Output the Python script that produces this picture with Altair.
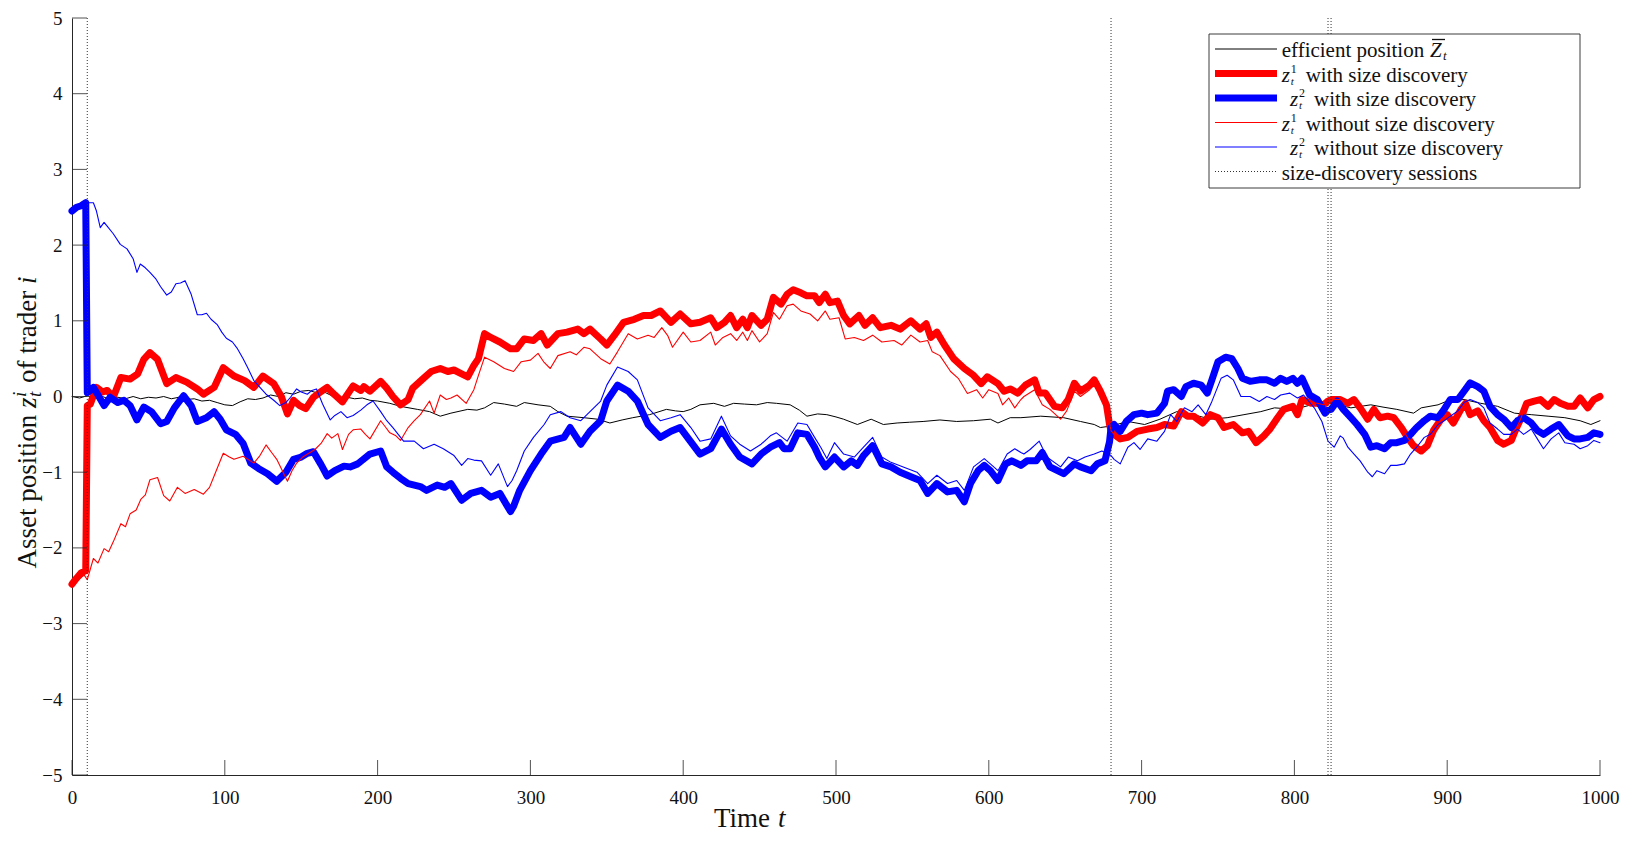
import altair as alt
import pandas as pd

# ---------------- data ----------------
EFFICIENT = [
    (0, 0.0), (5, -0.02), (10, 0.01), (15, -0.03), (20, 0.0), (25, -0.04), (30, -0.01), (35, -0.03),
    (40, 0.0), (45, -0.03), (50, -0.01), (55, -0.02), (60, 0.0), (65, -0.03), (70, -0.01), (75, -0.04),
    (80, -0.03), (85, -0.06), (90, -0.05), (95, -0.08), (100, -0.11), (105, -0.12), (110, -0.07),
    (115, -0.03), (120, -0.04), (125, -0.02), (130, 0.02), (135, 0.0), (140, 0.05), (145, 0.03),
    (150, 0.07), (155, 0.08), (160, 0.05), (165, 0.06), (170, 0.01), (175, -0.04), (180, -0.01),
    (185, -0.03), (190, -0.02), (195, -0.05), (200, -0.06), (208, -0.09), (215, -0.13), (226, -0.17),
    (234, -0.2), (241, -0.26), (248, -0.22), (259, -0.17), (265, -0.18), (270, -0.15), (276, -0.08),
    (283, -0.1), (291, -0.13), (296, -0.08), (305, -0.11), (313, -0.13), (318, -0.2), (324, -0.26),
    (335, -0.28), (344, -0.3), (352, -0.35), (360, -0.31), (367, -0.28), (378, -0.24), (389, -0.17),
    (395, -0.19), (400, -0.2), (405, -0.17), (411, -0.11), (420, -0.09), (427, -0.13), (433, -0.09),
    (440, -0.1), (448, -0.11), (455, -0.08), (461, -0.09), (470, -0.11), (476, -0.18), (481, -0.26),
    (488, -0.23), (494, -0.24), (500, -0.27), (505, -0.3), (514, -0.37), (523, -0.3), (531, -0.37),
    (540, -0.35), (548, -0.34), (557, -0.33), (568, -0.31), (579, -0.33), (590, -0.32), (601, -0.3),
    (606, -0.35), (614, -0.28), (621, -0.28), (634, -0.26), (649, -0.28), (660, -0.33), (669, -0.37),
    (673, -0.41), (680, -0.39), (691, -0.33), (702, -0.37), (712, -0.3), (723, -0.2), (734, -0.24),
    (745, -0.3), (756, -0.28), (767, -0.24), (778, -0.2), (787, -0.15), (800, -0.17), (811, -0.11),
    (824, -0.09), (837, -0.15), (850, -0.11), (858, -0.14), (867, -0.17), (878, -0.22), (883, -0.15),
    (894, -0.11), (900, -0.06), (911, -0.04), (922, -0.09), (933, -0.13), (944, -0.22), (955, -0.24),
    (966, -0.26), (977, -0.28), (987, -0.32), (994, -0.37), (1000, -0.32),
]

Z1_WITH_SD = [
    (0, -2.48), (3, -2.4), (6, -2.33), (9, -2.3), (10, -0.12), (12, -0.1), (16, 0.12), (20, 0.06),
    (23, 0.08), (27, -0.01), (32, 0.25), (38, 0.23), (43, 0.3), (47, 0.49), (51, 0.58), (56, 0.49),
    (62, 0.17), (68, 0.25), (75, 0.19), (82, 0.1), (86, 0.03), (93, 0.12), (99, 0.38), (106, 0.27),
    (113, 0.21), (119, 0.12), (125, 0.27), (132, 0.17), (137, 0.0), (141, -0.23), (145, -0.05),
    (149, -0.12), (153, -0.16), (158, -0.01), (162, 0.05), (167, 0.12), (172, 0.02), (177, -0.07),
    (184, 0.14), (189, 0.08), (191, 0.13), (195, 0.07), (202, 0.2), (206, 0.11), (210, 0.0),
    (215, -0.11), (220, -0.04), (223, 0.11), (230, 0.24), (235, 0.33), (241, 0.37), (246, 0.33),
    (250, 0.35), (255, 0.3), (259, 0.26), (263, 0.41), (266, 0.5), (270, 0.83), (274, 0.78),
    (280, 0.72), (287, 0.63), (291, 0.63), (296, 0.76), (302, 0.74), (307, 0.83), (311, 0.68),
    (318, 0.83), (324, 0.85), (331, 0.89), (335, 0.83), (339, 0.89), (346, 0.76), (350, 0.68),
    (355, 0.81), (361, 0.98), (368, 1.02), (374, 1.07), (379, 1.07), (385, 1.13), (392, 0.98),
    (398, 1.09), (405, 0.96), (411, 0.98), (418, 1.04), (422, 0.91), (427, 0.98), (431, 1.07),
    (435, 0.91), (439, 1.02), (442, 0.91), (445, 1.07), (451, 0.94), (455, 1.02), (459, 1.31),
    (464, 1.22), (468, 1.35), (472, 1.41), (477, 1.37), (481, 1.33), (486, 1.33), (489, 1.24),
    (493, 1.35), (496, 1.24), (501, 1.26), (505, 1.07), (509, 0.96), (515, 1.07), (519, 0.94),
    (524, 1.04), (529, 0.91), (536, 0.94), (542, 0.89), (549, 1.0), (555, 0.89), (559, 0.96),
    (562, 0.78), (566, 0.85), (571, 0.68), (577, 0.5), (584, 0.37), (590, 0.28), (595, 0.17),
    (599, 0.26), (606, 0.17), (610, 0.07), (614, 0.1), (619, 0.045), (624, 0.15), (630, 0.22),
    (633, 0.045), (637, 0.045), (643, -0.13), (648, -0.15), (652, -0.04), (656, 0.175), (660, 0.07),
    (666, 0.15), (669, 0.22), (673, 0.07), (677, -0.11), (679, -0.37), (680, -0.45), (682, -0.5),
    (686, -0.56), (691, -0.54), (697, -0.46), (704, -0.43), (710, -0.41), (715, -0.37), (721, -0.39),
    (726, -0.2), (730, -0.26), (734, -0.26), (740, -0.35), (745, -0.24), (750, -0.28), (754, -0.41),
    (760, -0.37), (766, -0.48), (770, -0.46), (775, -0.61), (780, -0.52), (784, -0.43), (789, -0.28),
    (793, -0.17), (799, -0.13), (802, -0.24), (805, -0.04), (811, -0.09), (815, -0.09), (819, -0.11),
    (822, -0.06), (824, -0.04), (830, -0.04), (835, -0.09), (839, -0.04), (843, -0.15), (848, -0.3),
    (852, -0.17), (856, -0.28), (861, -0.26), (865, -0.28), (870, -0.41), (874, -0.54), (878, -0.65),
    (883, -0.72), (887, -0.65), (891, -0.45), (896, -0.3), (900, -0.24), (904, -0.35), (909, -0.17),
    (912, -0.09), (915, -0.24), (920, -0.19), (924, -0.32), (928, -0.41), (933, -0.58), (937, -0.63),
    (942, -0.58), (945, -0.43), (948, -0.3), (952, -0.09), (957, -0.06), (961, -0.04), (966, -0.13),
    (970, -0.04), (974, -0.09), (979, -0.13), (983, -0.13), (987, -0.02), (992, -0.15), (996, -0.04),
    (1000, 0.0),
]

Z2_WITH_SD = [
    (0, 2.45), (3, 2.5), (6, 2.52), (9, 2.56), (10, 0.05), (12, 0.08), (14, 0.12), (17, 0.02),
    (21, -0.12), (25, -0.01), (30, -0.08), (34, -0.05), (38, -0.12), (42.5, -0.31), (47, -0.14),
    (52, -0.2), (58, -0.36), (62, -0.33), (67, -0.15), (73, 0.01), (78, -0.12), (82, -0.33),
    (88, -0.28), (93, -0.2), (97, -0.3), (101, -0.44), (107, -0.5), (112, -0.62), (117, -0.88),
    (122, -0.95), (128, -1.02), (134, -1.12), (140, -1.0), (145, -0.83), (150, -0.8), (154, -0.75),
    (158, -0.73), (163, -0.9), (167, -1.05), (172, -0.98), (178, -0.92), (182, -0.93), (187, -0.89),
    (195, -0.76), (202, -0.72), (206, -0.93), (210, -1.0), (215, -1.08), (220, -1.15), (228, -1.19),
    (232, -1.24), (239, -1.17), (244, -1.2), (248, -1.15), (255, -1.37), (261, -1.28), (268, -1.24),
    (274, -1.33), (280, -1.28), (287, -1.52), (289, -1.45), (293, -1.24), (300, -0.98), (307, -0.76),
    (313, -0.59), (322, -0.54), (326, -0.41), (333, -0.63), (339, -0.46), (346, -0.32), (350, -0.06),
    (357, 0.15), (364, 0.07), (370, -0.06), (377, -0.37), (385, -0.54), (392, -0.46), (398, -0.41),
    (405, -0.6), (411, -0.76), (418, -0.69), (425, -0.43), (431, -0.63), (437, -0.8), (445, -0.89),
    (451, -0.76), (457, -0.67), (463, -0.61), (466, -0.69), (470, -0.69), (475, -0.48), (481, -0.5),
    (486, -0.67), (489, -0.8), (493, -0.93), (499, -0.8), (505, -0.93), (510, -0.85), (514, -0.91),
    (518, -0.78), (524, -0.65), (530, -0.89), (536, -0.93), (542, -1.0), (549, -1.06), (555, -1.11),
    (560, -1.28), (566, -1.15), (573, -1.26), (579, -1.24), (584, -1.39), (588, -1.15), (593, -0.98),
    (597, -0.91), (601, -0.98), (606, -1.11), (611, -0.89), (615, -0.85), (621, -0.91), (625, -0.85),
    (631, -0.85), (635, -0.74), (640, -0.93), (649, -1.02), (656, -0.89), (660, -0.93), (667, -0.98),
    (671, -0.89), (676, -0.85), (679, -0.6), (680, -0.41), (682, -0.37), (686, -0.46), (690, -0.33),
    (695, -0.24), (700, -0.22), (704, -0.24), (710, -0.22), (715, -0.09), (717, 0.07), (721, 0.09),
    (726, 0.0), (729, 0.13), (734, 0.175), (739, 0.15), (743, 0.045), (746, 0.22), (750, 0.46),
    (755, 0.52), (759, 0.5), (763, 0.37), (766, 0.24), (771, 0.2), (777, 0.22), (782, 0.22),
    (787, 0.175), (791, 0.24), (795, 0.2), (799, 0.24), (802, 0.175), (805, 0.24), (810, 0.02),
    (815, -0.04), (820, -0.22), (822, -0.18), (824, -0.17), (828, -0.06), (832, -0.17), (837, -0.28),
    (841, -0.37), (846, -0.5), (850, -0.67), (854, -0.65), (859, -0.69), (863, -0.61), (867, -0.61),
    (872, -0.58), (876, -0.5), (880, -0.41), (885, -0.32), (889, -0.26), (894, -0.28), (898, -0.17),
    (902, -0.04), (907, -0.04), (911, 0.07), (915, 0.18), (920, 0.13), (924, 0.07), (928, -0.13),
    (933, -0.24), (937, -0.3), (942, -0.41), (946, -0.32), (950, -0.28), (955, -0.35), (959, -0.45),
    (963, -0.5), (968, -0.43), (973, -0.37), (979, -0.52), (983, -0.56), (987, -0.56), (992, -0.54),
    (996, -0.48), (1000, -0.5),
]

# z1 without size discovery up to the session at t=680 (afterwards it runs inside the thick red line)
Z1_NO_SD_BEFORE_680 = [
    (0, -2.48), (4, -2.42), (8, -2.36), (10, -2.42), (14, -2.14), (17, -2.2), (21, -2.01), (24, -2.05),
    (27, -1.92), (32, -1.68), (35, -1.72), (38, -1.55), (42, -1.5), (45, -1.36), (48, -1.3), (51, -1.1),
    (56, -1.07), (60, -1.31), (64, -1.38), (69, -1.2), (74, -1.28), (80, -1.23), (86, -1.29), (90, -1.2),
    (93, -1.05), (99, -0.75), (103, -0.8), (106, -0.83), (112, -0.79), (119, -0.88), (123, -0.78),
    (127, -0.64), (131, -0.75), (134, -0.83), (141, -1.12), (144, -0.98), (147, -0.88), (151, -0.8),
    (155, -0.75), (159, -0.7), (163, -0.62), (167, -0.49), (170, -0.55), (174, -0.49), (177, -0.7),
    (181, -0.5), (184, -0.44), (189, -0.43), (192, -0.5), (195, -0.56), (202, -0.32), (205, -0.4),
    (208, -0.48), (212, -0.52), (215, -0.58), (220, -0.41), (224, -0.32), (228, -0.24), (234, -0.06),
    (237, -0.22), (241, 0.02), (245, -0.04), (248, -0.02), (252, 0.02), (258, -0.09), (263, 0.09),
    (266, 0.28), (270, 0.52), (276, 0.46), (283, 0.37), (289, 0.33), (294, 0.46), (300, 0.48),
    (305, 0.57), (309, 0.45), (313, 0.37), (318, 0.54), (326, 0.59), (330, 0.55), (335, 0.65),
    (339, 0.63), (346, 0.5), (352, 0.43), (357, 0.59), (364, 0.83), (370, 0.76), (377, 0.81),
    (381, 0.78), (386, 0.91), (390, 0.8), (393, 0.65), (400, 0.85), (405, 0.72), (411, 0.74),
    (418, 0.85), (421, 0.68), (426, 0.78), (431, 0.83), (435, 0.74), (439, 0.85), (442, 0.74),
    (445, 0.87), (450, 0.72), (455, 0.83), (459, 1.11), (463, 1.02), (468, 1.2), (472, 1.22),
    (477, 1.13), (483, 1.09), (488, 1.0), (493, 1.13), (496, 1.02), (502, 1.04), (506, 0.76),
    (512, 0.78), (518, 0.74), (524, 0.81), (530, 0.72), (538, 0.74), (543, 0.68), (549, 0.81),
    (555, 0.72), (560, 0.74), (563, 0.59), (568, 0.54), (575, 0.33), (580, 0.24), (586, 0.04),
    (592, 0.09), (596, -0.02), (600, 0.09), (606, 0.04), (609, -0.11), (613, -0.02), (617, -0.15),
    (621, -0.04), (623, 0.0), (630, 0.09), (635, -0.11), (640, -0.17), (647, -0.3), (651, -0.19),
    (656, 0.07), (660, 0.0), (666, 0.09), (670, 0.175), (674, 0.0), (678, -0.24),
]
Z1_NO_SD = Z1_NO_SD_BEFORE_680 + [p for p in Z1_WITH_SD if p[0] >= 680]

Z2_NO_SD = [
    (0, 2.45), (3, 2.5), (6, 2.52), (9, 2.56), (10, 2.56), (14, 2.56), (16, 2.45), (18.5, 2.23),
    (21, 2.3), (23, 2.25), (27, 2.15), (31.6, 2.01), (36, 1.95), (40, 1.82), (42.5, 1.64), (44.7, 1.75),
    (48, 1.7), (51, 1.64), (55, 1.55), (58, 1.45), (62, 1.34), (65, 1.38), (68, 1.49), (71, 1.5),
    (74, 1.53), (78, 1.35), (82, 1.08), (85, 1.08), (88, 1.1), (91, 1.02), (95, 0.95), (98, 0.85),
    (101, 0.77), (105, 0.72), (108, 0.64), (112, 0.5), (115, 0.38), (119, 0.21), (123, 0.12),
    (127, 0.03), (132, -0.05), (136, -0.12), (140, -0.08), (143, -0.01), (147, 0.1), (150, 0.06),
    (154, 0.03), (157, 0.08), (160, 0.1), (164, -0.1), (169, -0.31), (172, -0.25), (176, -0.2),
    (180, -0.28), (184, -0.25), (189, -0.18), (193, -0.11), (197, -0.06), (202, -0.2), (206, -0.32),
    (210, -0.41), (217, -0.59), (224, -0.59), (230, -0.69), (237, -0.63), (243, -0.69), (250, -0.78),
    (255, -0.91), (259, -0.82), (263, -0.84), (268, -0.85), (274, -1.04), (279, -0.89), (285, -1.19),
    (288, -1.11), (291, -0.98), (296, -0.72), (302, -0.54), (309, -0.37), (313, -0.24), (320, -0.2),
    (326, -0.28), (333, -0.32), (339, -0.2), (346, -0.06), (350, 0.15), (357, 0.39), (364, 0.33),
    (370, 0.22), (377, -0.15), (385, -0.32), (392, -0.28), (398, -0.24), (405, -0.41), (411, -0.59),
    (418, -0.56), (425, -0.26), (431, -0.52), (437, -0.63), (444, -0.72), (451, -0.63), (457, -0.52),
    (461, -0.48), (468, -0.59), (475, -0.35), (481, -0.37), (486, -0.54), (490, -0.67), (494, -0.82),
    (499, -0.61), (505, -0.76), (512, -0.8), (518, -0.67), (524, -0.54), (530, -0.8), (536, -0.87),
    (544, -0.93), (553, -1.0), (560, -1.15), (566, -1.04), (573, -1.15), (579, -1.11), (584, -1.24),
    (590, -0.93), (597, -0.82), (601, -0.89), (606, -0.98), (612, -0.76), (617, -0.69), (621, -0.74),
    (623, -0.76), (627, -0.7), (633, -0.59), (638, -0.8), (647, -0.93), (652, -0.8), (658, -0.85),
    (663, -0.8), (669, -0.76), (674, -0.72), (680, -0.78), (682, -0.83), (686, -0.89), (691, -0.67),
    (695, -0.61), (699, -0.7), (704, -0.56), (710, -0.59), (715, -0.46), (719, -0.24), (723, -0.33),
    (728, -0.15), (733, -0.2), (737, -0.11), (742, -0.24), (746, -0.065), (752, 0.24), (756, 0.28),
    (760, 0.22), (765, 0.0), (771, 0.0), (777, -0.065), (782, 0.0), (787, -0.04), (791, 0.02),
    (797, 0.045), (802, -0.02), (806, 0.02), (813, -0.15), (818, -0.33), (822, -0.59), (826, -0.67),
    (830, -0.52), (832, -0.55), (835, -0.67), (839, -0.76), (843, -0.85), (848, -1.0), (851, -1.06),
    (854, -0.98), (859, -1.02), (863, -0.91), (867, -0.91), (872, -0.89), (876, -0.76), (880, -0.67),
    (885, -0.54), (889, -0.5), (894, -0.37), (898, -0.32), (902, -0.26), (907, -0.19), (911, -0.08),
    (915, -0.04), (920, -0.08), (924, -0.15), (928, -0.35), (933, -0.43), (937, -0.5), (942, -0.5),
    (946, -0.43), (950, -0.5), (955, -0.43), (959, -0.56), (963, -0.69), (968, -0.56), (973, -0.48),
    (977, -0.61), (983, -0.63), (987, -0.69), (992, -0.65), (996, -0.58), (1000, -0.61),
]

SESSIONS = [10, 680, 822, 824]
X_TICKS = list(range(0, 1001, 100))
Y_TICKS = list(range(-5, 6))

# ---------------- layout / style ----------------
W, H = 1528, 757
FONT = "Liberation Serif"
INK = "#262626"
TICK_LEN = 15
THICK, THIN = 7, 1.1

xs = alt.Scale(domain=[0, 1000], nice=False, zero=False)
ys = alt.Scale(domain=[-5, 5], nice=False, zero=False)

X_AXIS = alt.Axis(values=X_TICKS, title="", grid=False, ticks=False, format="d", labelPadding=13,
                  labelFlush=False, labelOverlap=False)
Y_AXIS = alt.Axis(values=Y_TICKS, title="", grid=False, ticks=False, format="d", labelPadding=10,
                  labelFlush=False, labelOverlap=False)


def X():
    return alt.X("t:Q", scale=xs, axis=X_AXIS)


def Y():
    return alt.Y("v:Q", scale=ys, axis=Y_AXIS)


def to_df(pairs):
    return pd.DataFrame({"t": [p[0] for p in pairs], "v": [p[1] for p in pairs]})


def line_layer(pairs, color, width):
    return alt.Chart(to_df(pairs)).mark_line(
        color=color, strokeWidth=width, strokeJoin="round", strokeCap="round"
    ).encode(x=X(), y=Y())


ONE = pd.DataFrame({"k": [0]})


def txt(s, x, y, size=21, italic=False, angle=0):
    kw = dict(text=s, font=FONT, fontSize=size, color="#111111", align="left",
              baseline="alphabetic", angle=angle)
    if italic:
        kw["fontStyle"] = "italic"
    return alt.Chart(ONE).mark_text(**kw).encode(x=alt.value(x), y=alt.value(y))


def hrule(x1, x2, y, color, width, dash=None):
    kw = dict(color=color, strokeWidth=width)
    if dash:
        kw["strokeDash"] = dash
    return alt.Chart(ONE).mark_rule(**kw).encode(x=alt.value(x1), x2=alt.value(x2), y=alt.value(y))


layers = []
# data lines, in plotting order
layers.append(line_layer(EFFICIENT, "#000000", 1.0))
layers.append(line_layer(Z1_WITH_SD, "#ff0000", THICK))
layers.append(line_layer(Z2_WITH_SD, "#0000ff", THICK))
layers.append(line_layer(Z1_NO_SD, "#ff0000", THIN))
layers.append(line_layer(Z2_NO_SD, "#0000ff", THIN))

# size-discovery sessions
layers.append(alt.Chart(pd.DataFrame({"t": SESSIONS})).mark_rule(
    color="#333333", strokeWidth=1, strokeDash=[1, 2]
).encode(x=X(), y=alt.value(0), y2=alt.value(H)))

# inward ticks (MATLAB style)
layers.append(alt.Chart(pd.DataFrame({"t": X_TICKS})).mark_rule(color=INK, strokeWidth=0.8).encode(
    x=X(), y=alt.value(H - TICK_LEN), y2=alt.value(H)))
layers.append(alt.Chart(pd.DataFrame({"v": Y_TICKS})).mark_rule(color=INK, strokeWidth=0.8).encode(
    y=Y(), x=alt.value(0), x2=alt.value(TICK_LEN)))

# axis titles
layers.append(txt("Time", 642, 809, size=27))
layers.append(txt("t", 706, 809, size=27, italic=True))
YB = -36
layers.append(txt("Asset position", YB, 550.5, size=27, angle=270))
layers.append(txt("z", YB, 390, size=27, italic=True, angle=270))
layers.append(txt("i", YB - 10, 379, size=19, italic=True, angle=270))
layers.append(txt("t", YB + 5, 379, size=19, italic=True, angle=270))
layers.append(txt("of trader", YB, 365, size=27, angle=270))
layers.append(txt("i", YB, 266, size=27, italic=True, angle=270))

# legend box
layers.append(alt.Chart(ONE).mark_rect(fill="white", stroke=INK, strokeWidth=0.9).encode(
    x=alt.value(1137), x2=alt.value(1508), y=alt.value(16), y2=alt.value(170)))
ROWS = [31, 55.5, 80, 104.5, 129, 153.5]
LX1, LX2, TX = 1143, 1205, 1209.7
BASE = 8
layers.append(hrule(LX1, LX2, ROWS[0], "#000000", 1.0))
layers.append(hrule(LX1, LX2, ROWS[1], "#ff0000", THICK))
layers.append(hrule(LX1, LX2, ROWS[2], "#0000ff", THICK))
layers.append(hrule(LX1, LX2, ROWS[3], "#ff0000", THIN))
layers.append(hrule(LX1, LX2, ROWS[4], "#0000ff", THIN))
layers.append(hrule(LX1, LX2, ROWS[5], "#333333", 1.0, dash=[1, 2]))

# row 1: efficient position Z-bar_t
layers.append(txt("efficient position", TX, ROWS[0] + BASE))
layers.append(txt("Z", 1358, ROWS[0] + BASE, italic=True))
layers.append(hrule(1360, 1373, ROWS[0] - 9.5, "#111111", 1.3))
layers.append(txt("t", 1371, ROWS[0] + 11, size=13, italic=True))

# rows 2-5: z_t^i with / without size discovery
for row, sup, shift, rest in [
    (1, "1", 0, "with size discovery"),
    (2, "2", 8.3, "with size discovery"),
    (3, "1", 0, "without size discovery"),
    (4, "2", 8.3, "without size discovery"),
]:
    y = ROWS[row]
    zx = TX + shift
    layers.append(txt("z", zx, y + BASE, italic=True))
    layers.append(txt(sup, zx + 9, y - 1, size=12))
    layers.append(txt("t", zx + 9, y + 11.4, size=11, italic=True))
    layers.append(txt(rest, zx + 24, y + BASE))

layers.append(txt("size-discovery sessions", TX, ROWS[5] + BASE))

chart = alt.layer(*layers).properties(
    width=W,
    height=H,
    padding={"left": 64, "top": 10, "right": 23, "bottom": 60},
    autosize=alt.AutoSizeParams(type="none"),
    background="white",
).configure_view(
    stroke="transparent"
).configure_axis(
    labelFont=FONT, labelFontSize=19, labelColor="#111111",
    domainColor=INK, domainWidth=1, tickSize=0,
)

chart.save("out.html", embed_options={"renderer": "svg", "actions": False})
